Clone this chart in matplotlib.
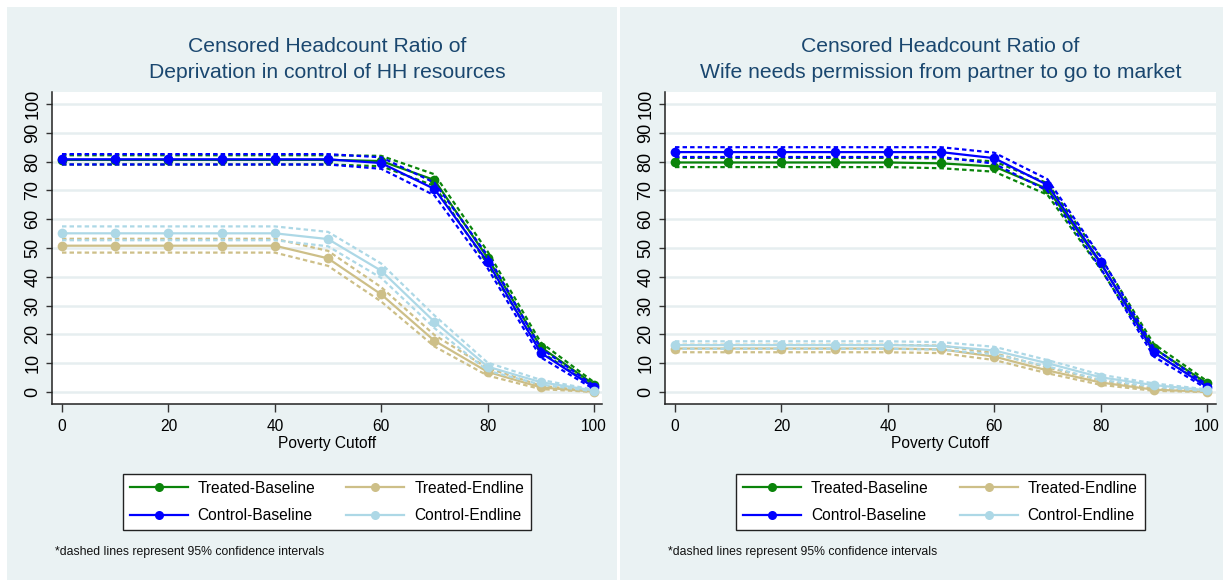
import matplotlib
matplotlib.use("Agg")
import matplotlib.pyplot as plt
from matplotlib import font_manager as fm
from matplotlib.patches import Rectangle
from matplotlib.lines import Line2D

# ---------------- data ----------------
cutoffs = [0, 10, 20, 30, 40, 50, 60, 70, 80, 90, 100]
series_names = ["Treated-Baseline", "Control-Baseline", "Treated-Endline", "Control-Endline"]

titles_left = ["Censored Headcount Ratio of", "Deprivation in control of HH resources"]
titles_right = ["Censored Headcount Ratio of", "Wife needs permission from partner to go to market"]

# Left panel: Deprivation in control of HH resources
left_tb = [80.6, 80.6, 80.6, 80.6, 80.6, 80.6, 80.2, 73.6, 46.6, 15.6, 2.6]
left_cb = [80.8, 80.8, 80.8, 80.8, 80.8, 80.8, 79.5, 70.5, 45.2, 13.6, 1.6]
left_te = [50.8, 50.8, 50.8, 50.8, 50.8, 46.4, 33.9, 17.8, 7.0, 1.6, 0.1]
left_ce = [55.1, 55.1, 55.1, 55.1, 55.1, 53.1, 42.1, 24.4, 8.8, 3.4, 0.5]
left_tb_ci = [1.6, 1.6, 1.6, 1.6, 1.6, 1.6, 1.8, 2.0, 2.2, 1.6, 0.8]
left_cb_ci = [1.8, 1.8, 1.8, 1.8, 1.8, 1.8, 2.0, 2.2, 2.2, 1.6, 0.6]
left_te_ci = [2.4, 2.4, 2.4, 2.4, 2.4, 2.6, 2.5, 2.0, 1.3, 0.6, 0.1]
left_ce_ci = [2.4, 2.4, 2.4, 2.4, 2.4, 2.5, 2.5, 2.2, 1.4, 0.8, 0.3]

# Right panel: Wife needs permission from partner to go to market
right_tb = [79.7, 79.7, 79.7, 79.7, 79.7, 79.4, 78.3, 70.5, 44.7, 15.2, 3.0]
right_cb = [83.3, 83.3, 83.3, 83.3, 83.3, 83.3, 81.2, 71.9, 45.0, 13.8, 1.8]
right_te = [15.1, 15.1, 15.1, 15.1, 15.1, 14.8, 12.3, 7.5, 3.3, 0.8, 0.1]
right_ce = [16.3, 16.3, 16.3, 16.3, 16.3, 16.0, 14.4, 10.0, 5.1, 2.4, 0.6]
right_tb_ci = [1.6, 1.6, 1.6, 1.6, 1.6, 1.7, 1.8, 2.0, 2.0, 1.5, 0.8]
right_cb_ci = [1.7, 1.7, 1.7, 1.7, 1.7, 1.7, 1.9, 2.0, 2.0, 1.5, 0.7]
right_te_ci = [1.3, 1.3, 1.3, 1.3, 1.3, 1.3, 1.2, 1.0, 0.8, 0.4, 0.1]
right_ce_ci = [1.3, 1.3, 1.3, 1.3, 1.3, 1.3, 1.3, 1.1, 0.9, 0.6, 0.3]

y_ticks = [0, 10, 20, 30, 40, 50, 60, 70, 80, 90, 100]
x_ticks = [0, 20, 40, 60, 80, 100]
x_label = "Poverty Cutoff"
note_text = "*dashed lines represent 95% confidence intervals"

# ---------------- style ----------------
names = {f.name for f in fm.fontManager.ttflist}
if "Liberation Sans Narrow" in names:
    NARROW, K = "Liberation Sans Narrow", 1.0
else:
    NARROW, K = "Liberation Sans", 0.83
REG = "Liberation Sans"

colors = ["#0A840A", "#0000FF", "#CDBF88", "#ADD8E6"]
BG = "#EAF2F3"
GRID = "#E6EEF0"
TITLE_C = "#1A476F"

W, H = 1223, 580
fig = plt.figure(figsize=(W / 100, H / 100), dpi=100, facecolor="white")

# panel backgrounds
fig.patches.append(Rectangle((7 / W, 0), 610 / W, 573 / H, transform=fig.transFigure,
                             facecolor=BG, edgecolor="none", zorder=-10))
fig.patches.append(Rectangle((620 / W, 0), 603 / W, 573 / H, transform=fig.transFigure,
                             facecolor=BG, edgecolor="none", zorder=-10))

FS_TICK = 13.5 * K
FS_LEG = 13.5 * K
FS_TITLE = 18.3 * K
FS_NOTE = 10.6 * K


def draw_panel(left_px, width_px, titles, means, cis):
    ax = fig.add_axes([left_px / W, 1 - 404 / H, width_px / W, 312 / H])
    ax.set_facecolor("white")
    for i, (m, c) in enumerate(zip(means, cis)):
        lo = [a - b for a, b in zip(m, c)]
        hi = [a + b for a, b in zip(m, c)]
        z = 3 + i
        ax.plot(cutoffs, lo, color=colors[i], lw=1.6, ls=(0, (2, 1.4)), zorder=z)
        ax.plot(cutoffs, hi, color=colors[i], lw=1.6, ls=(0, (2, 1.4)), zorder=z)
        ax.plot(cutoffs, m, color=colors[i], lw=1.6, marker="o", markersize=7,
                markeredgewidth=0, zorder=z + 0.5)
    ax.set_xlim(-1.88, -1.88 + width_px / 5.32)
    ax.set_ylim(-4.17, 104.17)
    ax.set_yticks(y_ticks)
    ax.set_xticks(x_ticks)
    ax.set_yticklabels([str(v) for v in y_ticks], rotation=90, va="center",
                       fontfamily=REG, fontsize=13)
    ax.set_xticklabels([str(v) for v in x_ticks], fontfamily=NARROW, fontsize=FS_TICK)
    ax.tick_params(axis="y", length=4, width=1, color="#333333", pad=3.5)
    ax.tick_params(axis="x", length=6, width=1, color="#333333", pad=5)
    ax.grid(axis="y", color=GRID, lw=1.8, zorder=0)
    ax.set_axisbelow(True)
    for s in ["top", "right"]:
        ax.spines[s].set_visible(False)
    for s in ["left", "bottom"]:
        ax.spines[s].set_color("#222222")
        ax.spines[s].set_linewidth(1.1)
    ax.set_xlabel(x_label, fontfamily=NARROW, fontsize=FS_TICK, labelpad=1)
    cx = (left_px + width_px / 2) / W
    fig.text(cx, 1 - 46 / H, titles[0], ha="center", va="center", color=TITLE_C,
             fontfamily=NARROW, fontsize=FS_TITLE)
    fig.text(cx, 1 - 73 / H, titles[1], ha="center", va="center", color=TITLE_C,
             fontfamily=NARROW, fontsize=FS_TITLE)
    handles = [Line2D([], [], color=colors[i], lw=1.6, marker="o", markersize=6.5,
                      markeredgewidth=0) for i in range(4)]
    leg = fig.legend(handles, series_names, ncol=2, loc="center",
                     bbox_to_anchor=(cx, 1 - 502 / H), bbox_transform=fig.transFigure,
                     prop={"family": NARROW, "size": FS_LEG}, frameon=True, fancybox=False,
                     edgecolor="#222222", facecolor="white", framealpha=1,
                     handlelength=3.7, handletextpad=0.65, columnspacing=2.0,
                     labelspacing=0.8, borderpad=0.45)
    leg.get_frame().set_linewidth(1.0)
    fig.text((left_px + 3) / W, 1 - 552 / H, note_text, ha="left", va="center",
             fontfamily=NARROW, fontsize=FS_NOTE, color="#111111")
    return ax


draw_panel(52, 550, titles_left, [left_tb, left_cb, left_te, left_ce],
           [left_tb_ci, left_cb_ci, left_te_ci, left_ce_ci])
draw_panel(665, 551, titles_right, [right_tb, right_cb, right_te, right_ce],
           [right_tb_ci, right_cb_ci, right_te_ci, right_ce_ci])

fig.savefig("out.png", dpi=100, facecolor="white")
